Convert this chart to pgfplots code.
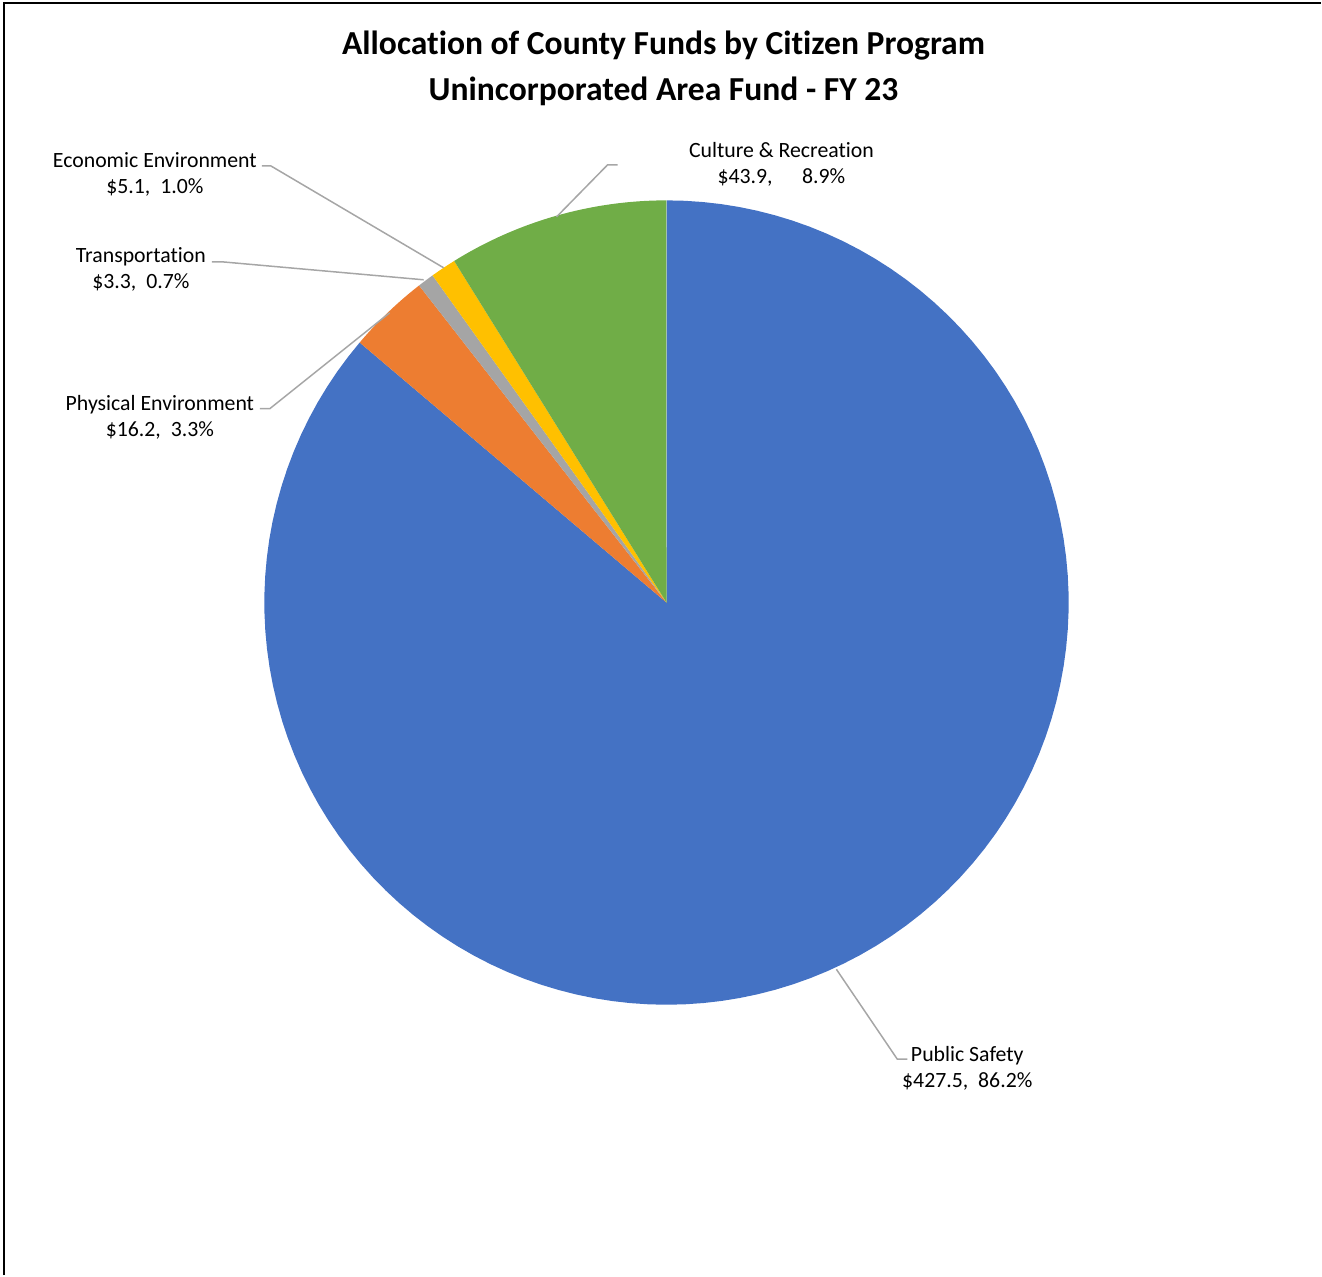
\documentclass[border=0pt]{standalone}
\usepackage{pgfplots}
\pgfplotsset{compat=1.18}
\usepackage{fontspec}
\setmainfont{Carlito}[Ligatures=NoCommon]
\definecolor{cBlue}{HTML}{4472C4}
\definecolor{cOrange}{HTML}{ED7D31}
\definecolor{cGray}{HTML}{A5A5A5}
\definecolor{cYellow}{HTML}{FFC000}
\definecolor{cGreen}{HTML}{70AD47}
\definecolor{cLead}{HTML}{A6A6A6}
% values ($M)
\def\vPS{427.5}
\def\vPE{16.2}
\def\vTR{3.3}
\def\vEE{5.1}
\def\vCR{43.9}
\pgfmathsetmacro\vTot{\vPS+\vPE+\vTR+\vEE+\vCR}
\pgfmathsetmacro\aA{90}
\pgfmathsetmacro\aB{\aA-(360/\vTot)*\vPS}
\pgfmathsetmacro\aC{\aB-(360/\vTot)*\vPE}
\pgfmathsetmacro\aD{\aC-(360/\vTot)*\vTR}
\pgfmathsetmacro\aE{\aD-(360/\vTot)*\vEE}
\pgfmathsetmacro\aF{\aE-(360/\vTot)*\vCR}
\def\cx{667}
\def\cy{603}
\def\rr{402.5}
\begin{document}
\begin{tikzpicture}
\path (0,0) rectangle (661bp,638bp);
\begin{axis}[
  at={(0,0)}, anchor=south west,
  width=661bp, height=638bp, scale only axis,
  xmin=0, xmax=1322, ymin=0, ymax=1276, y dir=reverse,
  hide axis, clip=false,
  every axis plot/.append style={samples=120, draw=none},
]
\addplot[fill=cBlue, domain=\aB:\aA] ({\cx+\rr*cos(x)},{\cy-\rr*sin(x)}) -- (axis cs:\cx,\cy) -- cycle;
\addplot[fill=cOrange, domain=\aC:\aB] ({\cx+\rr*cos(x)},{\cy-\rr*sin(x)}) -- (axis cs:\cx,\cy) -- cycle;
\addplot[fill=cGray, domain=\aD:\aC] ({\cx+\rr*cos(x)},{\cy-\rr*sin(x)}) -- (axis cs:\cx,\cy) -- cycle;
\addplot[fill=cYellow, domain=\aE:\aD] ({\cx+\rr*cos(x)},{\cy-\rr*sin(x)}) -- (axis cs:\cx,\cy) -- cycle;
\addplot[fill=cGreen, domain=\aF:\aE] ({\cx+\rr*cos(x)},{\cy-\rr*sin(x)}) -- (axis cs:\cx,\cy) -- cycle;
% leader lines
\addplot[draw=cLead, line width=0.75bp] coordinates {(262,166) (271,166) (444,268)};
\addplot[draw=cLead, line width=0.75bp] coordinates {(212,262) (222,262) (424,280)};
\addplot[draw=cLead, line width=0.75bp] coordinates {(260,409) (270,409) (390,313)};
\addplot[draw=cLead, line width=0.75bp] coordinates {(618,165) (608,165) (557,217)};
\addplot[draw=cLead, line width=0.75bp] coordinates {(837,970) (898,1060) (908,1060)};
% frame
\addplot[draw=black, line width=1bp] coordinates {(4,1276) (4,3) (1322,3)};
% labels
\begin{scope}[every node/.style={font=\fontsize{10.9bp}{13bp}\selectfont, align=center, inner sep=0pt}]
\node at (axis cs:155,175) {Economic Environment\\\$5.1,\ \ 1.0\%};
\node at (axis cs:141,270) {Transportation\\\$3.3,\ \ 0.7\%};
\node at (axis cs:160,418) {Physical Environment\\\$16.2,\ \ 3.3\%};
\node at (axis cs:782,164) {Culture \& Recreation\\\$43.9,\ \ \ \ \ \ 8.9\%};
\node at (axis cs:968,1069) {Public Safety\\\$427.5,\ \ 86.2\%};
\end{scope}
\node[font=\bfseries\fontsize{16.8bp}{23bp}\selectfont, align=center, inner sep=0pt] at (axis cs:664,68) {Allocation of County Funds by Citizen Program\\Unincorporated Area Fund - FY 23};
\end{axis}
\end{tikzpicture}
\end{document}
